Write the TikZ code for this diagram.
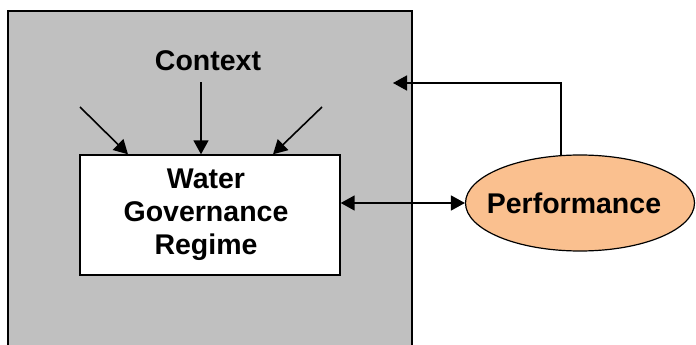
\documentclass[tikz,border=0pt]{standalone}
\usepackage{fontspec}
\setmainfont{Liberation Sans}
\usetikzlibrary{arrows.meta,shapes.geometric}
\definecolor{regiongray}{RGB}{192,192,192}
\definecolor{perforange}{RGB}{250,192,143}
\tikzset{
  label text/.style={font=\fontsize{28.5}{33}\selectfont\bfseries, align=center},
  flow/.style={line width=1.6pt, -{Triangle[length=14pt,width=15pt]}},
}
\begin{document}
\begin{tikzpicture}[x=1pt,y=-1pt]
      \useasboundingbox (0,0) rectangle (696,345);
      \fill[regiongray] (8,11) rectangle (412,350);
      \draw[line width=1.8pt] (8,350)--(8,11)--(412,11)--(412,350);
      \node[label text] (context) at (208,61) {Context};
      \node[draw, line width=1.4pt, fill=white, minimum width=260pt, minimum height=120pt] (regime) at (210,215) {};
      \node[label text] (regimetext) at (206,215) {Water\\Governance\\Regime};
      \node[ellipse, draw, line width=1.2pt, fill=perforange, minimum width=229pt, minimum height=96pt, inner sep=0pt] (perf) at (580,203) {};
      \node[label text] (perftext) at (574,203) {Performance};
      \coordinate (lefttail) at (80,107);
      \coordinate (righttail) at (322,107);
      \coordinate (feedback) at (393,83);
      \coordinate (perftop) at (561,156);
      \draw[flow] (201,82) -- (regime.north -| 201,0);
      \draw[flow] (lefttail) -- (regime.north -| 128,0);
      \draw[flow] (righttail) -- (regime.north -| 273,0);
      \draw[flow, {Triangle[length=14pt,width=15pt]}-{Triangle[length=14pt,width=15pt]}] (perf.west -| regime.east) -- (perf.west);
      \draw[flow] (perftop) |- (feedback);
    \end{tikzpicture}
\end{document}
